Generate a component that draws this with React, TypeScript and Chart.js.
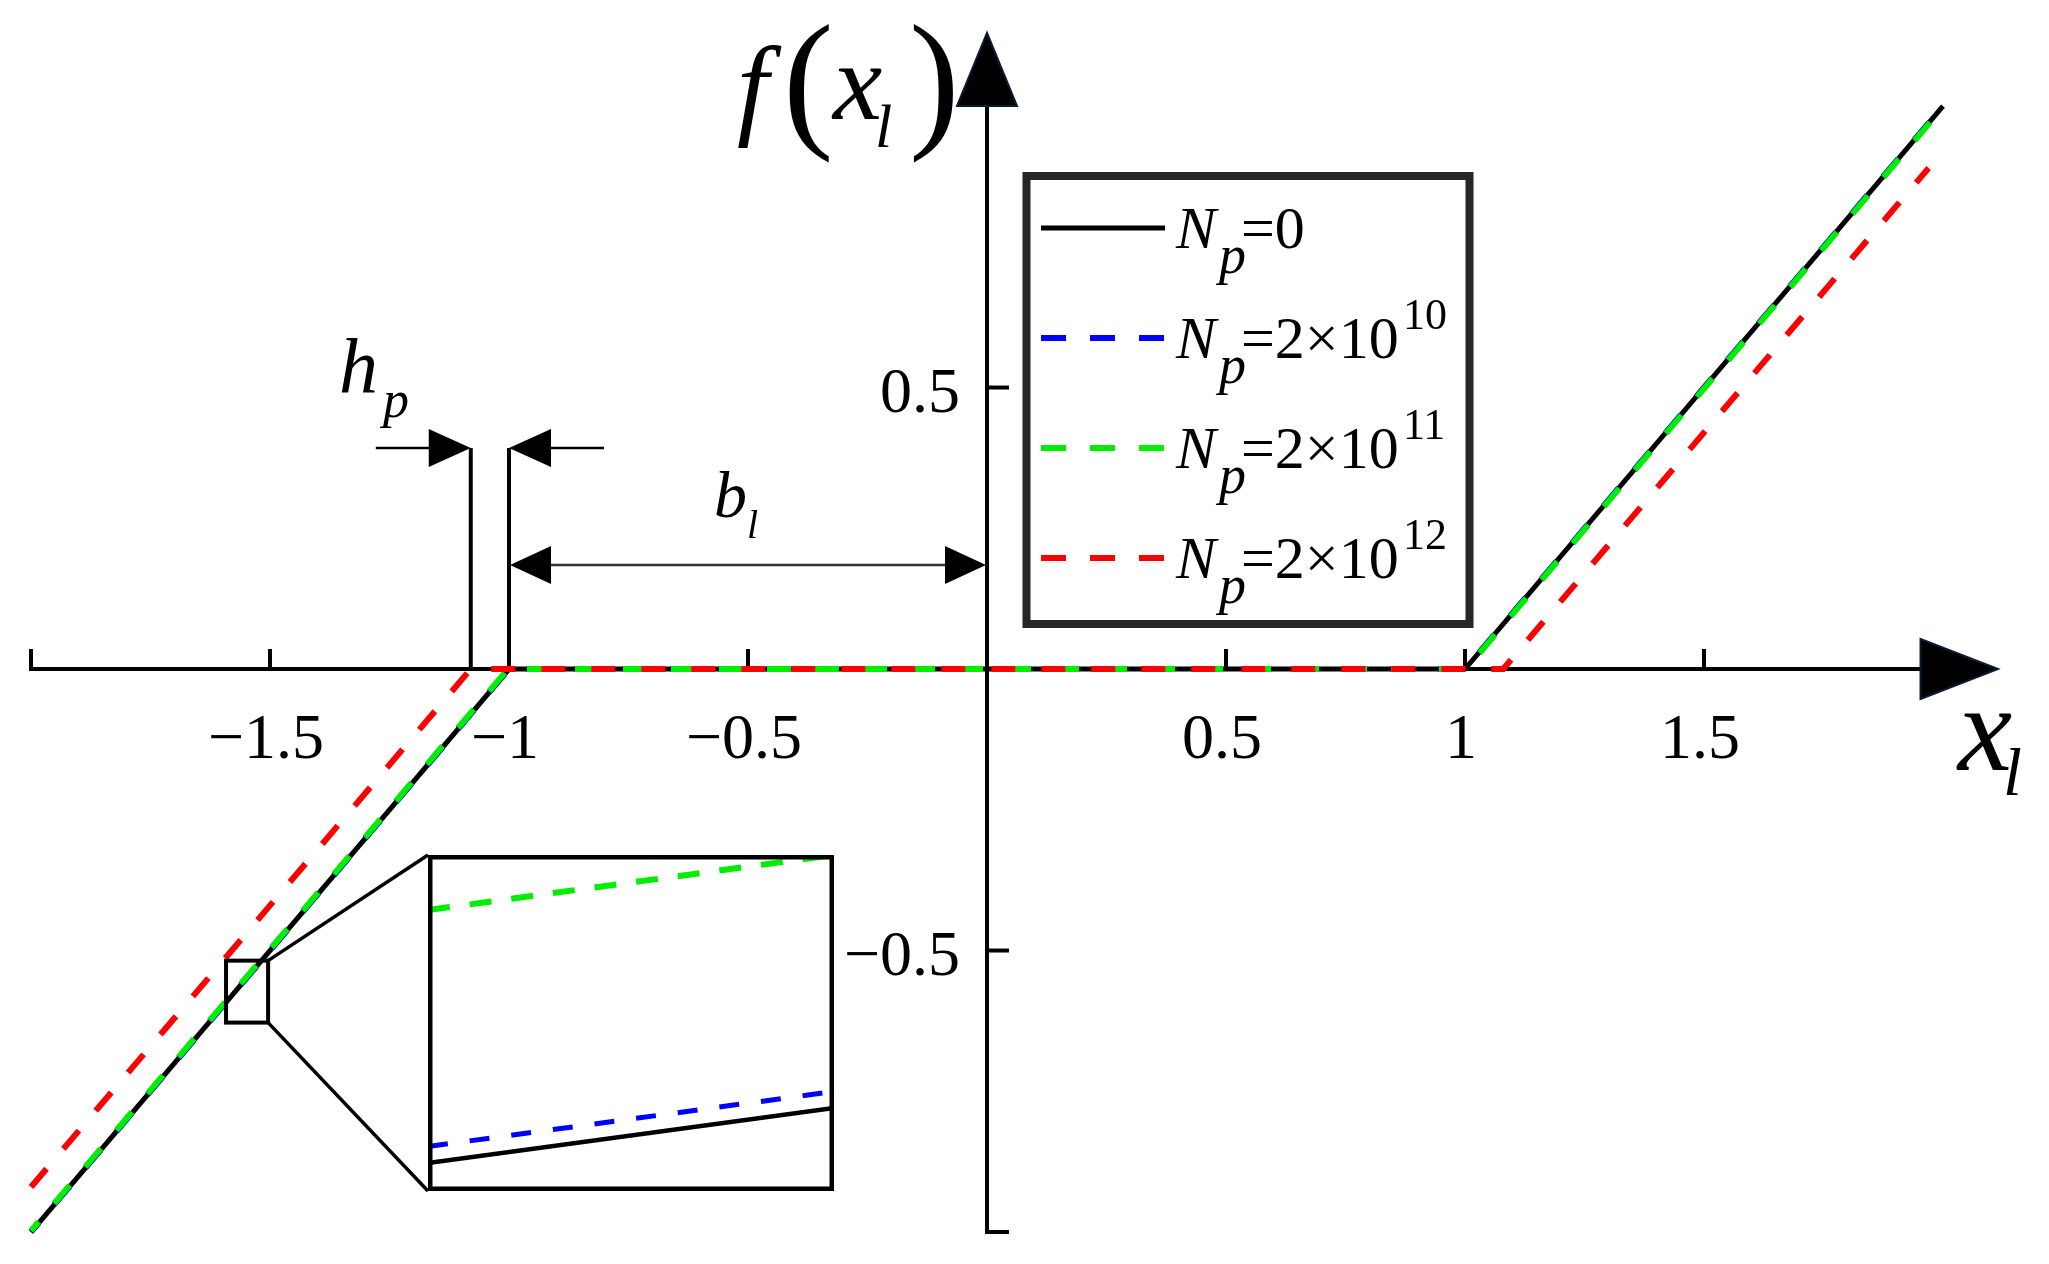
import React, { useEffect, useRef } from 'react';
import { Chart, registerables } from 'chart.js';

Chart.register(...registerables);

// ---------------- data ----------------
// f(x_l) piecewise-linear curves for each N_p
const xBlack = [-2, -1, 1, 2];
const yBlack = [-1, 0, 0, 1];
const xBlue = [-2, -1.0003, 1.0003, 2];
const yBlue = [-0.9997, 0, 0, 0.9997];
const xGreen = [-2, -1.002, 1.002, 2];
const yGreen = [-0.998, 0, 0, 0.998];
const xRed = [-2, -1.08, 1.08, 1.97];
const yRed = [-0.92, 0, 0, 0.89];

// tick values / labels
const xTickValues = [-2, -1.5, -1, -0.5, 0.5, 1, 1.5];
const xTickLabels = ['', '\u22121.5', '\u22121', '\u22120.5', '0.5', '1', '1.5'];
const yTickValues = [0.5, -0.5, -1];
const yTickLabels = ['0.5', '\u22120.5', ''];

// legend text
const legendMain = ['=0', '=2\u00d710', '=2\u00d710', '=2\u00d710'];
const legendSup = ['', '10', '11', '12'];

// zoomed inset (magnified piece of the left branch)
const insetX = [-1.552, -1.55];
const insetBlack = [-0.552, -0.55];
const insetBlue = [-0.5514, -0.5494];
const insetGreen = [-0.5428, -0.5408];

// ---------------- helpers ----------------
const W = 2049;
const H = 1264;
const SERIF = "'Liberation Serif', 'Times New Roman', serif";

const pts = (xs: number[], ys: number[]) => xs.map((x, i) => ({ x, y: ys[i] }));

function txt(ctx: CanvasRenderingContext2D, s: string, x: number, y: number, size: number, italic = false, align: CanvasTextAlign = 'left') {
  ctx.font = `${italic ? 'italic ' : ''}${size}px ${SERIF}`;
  ctx.textAlign = align;
  ctx.textBaseline = 'alphabetic';
  ctx.fillStyle = '#000';
  ctx.fillText(s, x, y);
}

function tri(ctx: CanvasRenderingContext2D, p: number[][], stroke?: string) {
  ctx.beginPath();
  ctx.moveTo(p[0][0], p[0][1]);
  ctx.lineTo(p[1][0], p[1][1]);
  ctx.lineTo(p[2][0], p[2][1]);
  ctx.closePath();
  ctx.fillStyle = '#000';
  ctx.fill();
  if (stroke) {
    ctx.strokeStyle = stroke;
    ctx.lineWidth = 2;
    ctx.setLineDash([]);
    ctx.stroke();
  }
}

function line(ctx: CanvasRenderingContext2D, x1: number, y1: number, x2: number, y2: number, w: number, color = '#000') {
  ctx.beginPath();
  ctx.moveTo(x1, y1);
  ctx.lineTo(x2, y2);
  ctx.lineWidth = w;
  ctx.strokeStyle = color;
  ctx.setLineDash([]);
  ctx.stroke();
}

export default function App() {
  const mainRef = useRef<HTMLCanvasElement>(null);
  const insetRef = useRef<HTMLCanvasElement>(null);

  useEffect(() => {
    const mainCanvas = mainRef.current!;
    const insetCanvas = insetRef.current!;

    const bgPlugin = {
      id: 'bg',
      beforeDraw(chart: any) {
        const ctx = chart.ctx;
        ctx.save();
        ctx.fillStyle = '#fff';
        ctx.fillRect(0, 0, chart.width, chart.height);
        ctx.restore();
      },
    };

    const axesPlugin = {
      id: 'axesDecor',
      beforeDatasetsDraw(chart: any) {
        const ctx: CanvasRenderingContext2D = chart.ctx;
        const X = (v: number) => chart.scales.x.getPixelForValue(v);
        const Y = (v: number) => chart.scales.y.getPixelForValue(v);
        const x0 = X(0);
        const y0 = Y(0);
        ctx.save();
        ctx.lineCap = 'butt';
        // x axis
        line(ctx, X(-2), y0, X(1.96), y0, 4);
        tri(ctx, [[X(2.115), y0], [X(1.953), y0 - 30], [X(1.953), y0 + 30]], '#0b1a33');
        // y axis
        line(ctx, x0, Y(-1), x0, Y(1.01), 4);
        tri(ctx, [[x0, Y(1.13)], [x0 - 30, Y(1.0)], [x0 + 30, Y(1.0)]], '#0b1a33');
        // x ticks (pointing up) and labels
        xTickValues.forEach((v, i) => {
          const px = X(v);
          line(ctx, px, y0 + 2, px, y0 - 20, 4);
          if (xTickLabels[i]) txt(ctx, xTickLabels[i], px - 4, y0 + 89, 64, false, 'center');
        });
        // y ticks (pointing right) and labels
        yTickValues.forEach((v, i) => {
          const py = Y(v);
          line(ctx, x0 - 2, py, x0 + 22, py, 4);
          if (yTickLabels[i]) txt(ctx, yTickLabels[i], x0 - 27, py + 24, 64, false, 'right');
        });
        // h_p dimension lines
        const xa = X(xRed[1]);
        const xb = X(xBlack[1]);
        const hpY = y0 - 221;
        line(ctx, xa, hpY, xa, y0, 4);
        line(ctx, xb, hpY, xb, y0, 4);
        line(ctx, xa - 95, hpY, xa - 40, hpY, 2.5);
        tri(ctx, [[xa, hpY], [xa - 42, hpY - 19], [xa - 42, hpY + 19]]);
        line(ctx, xb + 40, hpY, xb + 95, hpY, 2.5);
        tri(ctx, [[xb, hpY], [xb + 42, hpY - 19], [xb + 42, hpY + 19]]);
        // b_l double arrow
        const blY = y0 - 104;
        line(ctx, xb + 38, blY, x0 - 38, blY, 2.5, '#333');
        tri(ctx, [[xb + 1, blY], [xb + 42, blY - 19], [xb + 42, blY + 19]]);
        tri(ctx, [[x0 - 1, blY], [x0 - 42, blY - 19], [x0 - 42, blY + 19]]);
        ctx.restore();
      },
      afterDatasetsDraw(chart: any) {
        const ctx: CanvasRenderingContext2D = chart.ctx;
        const X = (v: number) => chart.scales.x.getPixelForValue(v);
        const Y = (v: number) => chart.scales.y.getPixelForValue(v);
        ctx.save();
        // axis titles: f(x_l)
        txt(ctx, 'f', 737, 124, 113, true);
        txt(ctx, '(', 783, 130, 152, false);
        txt(ctx, 'x', 833, 119, 111, true);
        txt(ctx, 'l', 875, 147, 62, true);
        txt(ctx, ')', 909, 130, 152, false);
        // x_l
        txt(ctx, 'x', 1958, 770, 122, true);
        txt(ctx, 'l', 2003, 795, 68, true);
        // h_p, b_l annotations
        txt(ctx, 'h', 339, 393, 78, true);
        txt(ctx, 'p', 383, 417, 52, true);
        txt(ctx, 'b', 714, 517, 66, true);
        txt(ctx, 'l', 747, 538, 40, true);

        // legend box
        ctx.lineWidth = 8;
        ctx.strokeStyle = '#262626';
        ctx.setLineDash([]);
        ctx.strokeRect(1026.5, 176, 443, 448);
        const colors = ['#000000', '#0000ff', '#00ee00', '#ff0000'];
        const lineYs = [228, 338, 448, 558];
        lineYs.forEach((ly, i) => {
          ctx.beginPath();
          ctx.moveTo(1041, ly);
          ctx.lineTo(1165, ly);
          ctx.strokeStyle = colors[i];
          ctx.lineWidth = i === 0 ? 5 : 6;
          ctx.setLineDash(i === 0 ? [] : [25, 24]);
          ctx.stroke();
          ctx.setLineDash([]);
          const bl = ly + 20;
          txt(ctx, 'N', 1176, bl, 60, true);
          txt(ctx, 'p', 1219, bl + 25, 54, true);
          txt(ctx, legendMain[i], 1241, bl, 60, false);
          if (legendSup[i]) txt(ctx, legendSup[i], 1403, bl - 29, 44, false);
        });

        // small zoom box and connectors to the inset
        const bx1 = X(-1.592), bx2 = X(-1.504), by1 = Y(-0.518), by2 = Y(-0.628);
        ctx.lineWidth = 4;
        ctx.strokeStyle = '#000';
        ctx.strokeRect(bx1, by1, bx2 - bx1, by2 - by1);
        const ix = X(-1.1695), iy1 = Y(-0.3304), iy2 = Y(-0.9272);
        line(ctx, bx2, by1, ix, iy1, 3.5);
        line(ctx, bx2, by2, ix, iy2, 3.5);
        ctx.restore();
      },
    };

    const main = new Chart(mainCanvas, {
      type: 'scatter',
      data: {
        datasets: [
          { label: 'N_p=2×10^12', data: pts(xRed, yRed), showLine: true, borderColor: '#ff0000', borderWidth: 6, borderDash: [24, 26], pointRadius: 0, order: 0 },
          { label: 'N_p=2×10^11', data: pts(xGreen, yGreen), showLine: true, borderColor: '#00ee00', borderWidth: 6, borderDash: [24, 24], borderDashOffset: 12, pointRadius: 0, order: 1 },
          { label: 'N_p=2×10^10', data: pts(xBlue, yBlue), showLine: true, borderColor: '#0000ff', borderWidth: 6, borderDash: [24, 24], borderDashOffset: 12, pointRadius: 0, order: 2 },
          { label: 'N_p=0', data: pts(xBlack, yBlack), showLine: true, borderColor: '#000000', borderWidth: 5, pointRadius: 0, order: 3 },
        ],
      } as any,
      options: {
        responsive: false,
        maintainAspectRatio: false,
        animation: false,
        events: [],
        layout: { padding: 0 },
        plugins: { legend: { display: false }, tooltip: { enabled: false } },
        scales: {
          x: { type: 'linear', min: -2.0649, max: 2.2218, display: false },
          y: { type: 'linear', min: -1.0568, max: 1.1883, display: false },
        },
      } as any,
      plugins: [bgPlugin, axesPlugin],
    });

    const X = (v: number) => main.scales.x.getPixelForValue(v);
    const Y = (v: number) => main.scales.y.getPixelForValue(v);
    const L = Math.round(X(-1.1695));
    const R = Math.round(X(-0.3201));
    const T = Math.round(Y(-0.3304));
    const B = Math.round(Y(-0.9272));
    insetCanvas.width = R - L;
    insetCanvas.height = B - T;
    insetCanvas.style.left = L + 'px';
    insetCanvas.style.top = T + 'px';
    insetCanvas.style.width = R - L + 'px';
    insetCanvas.style.height = B - T + 'px';

    const insetBorder = {
      id: 'insetBorder',
      afterDraw(chart: any) {
        const ctx = chart.ctx;
        ctx.save();
        ctx.lineWidth = 4.5;
        ctx.strokeStyle = '#000';
        ctx.setLineDash([]);
        ctx.strokeRect(2.25, 2.25, chart.width - 4.5, chart.height - 4.5);
        ctx.restore();
      },
    };

    const inset = new Chart(insetCanvas, {
      type: 'scatter',
      data: {
        datasets: [
          { label: 'g', data: pts(insetX, insetGreen), showLine: true, borderColor: '#00ee00', borderWidth: 6, borderDash: [22, 20], pointRadius: 0, order: 0 },
          { label: 'b', data: pts(insetX, insetBlue), showLine: true, borderColor: '#0000ff', borderWidth: 5, borderDash: [20, 22], pointRadius: 0, order: 1 },
          { label: 'k', data: pts(insetX, insetBlack), showLine: true, borderColor: '#000000', borderWidth: 4.5, pointRadius: 0, order: 2 },
        ],
      } as any,
      options: {
        responsive: false,
        maintainAspectRatio: false,
        animation: false,
        events: [],
        layout: { padding: 0 },
        plugins: { legend: { display: false }, tooltip: { enabled: false } },
        scales: {
          x: { type: 'linear', min: -1.552, max: -1.55, display: false },
          y: { type: 'linear', min: -0.553018, max: -0.5408, display: false },
        },
      } as any,
      plugins: [bgPlugin, insetBorder],
    });

    return () => {
      inset.destroy();
      main.destroy();
    };
  }, []);

  return (
    <div style={{ position: 'absolute', left: 0, top: 0, width: W, height: H, background: '#fff' }}>
      <canvas ref={mainRef} width={W} height={H} style={{ position: 'absolute', left: 0, top: 0, width: W, height: H }} />
      <canvas ref={insetRef} style={{ position: 'absolute' }} />
    </div>
  );
}
